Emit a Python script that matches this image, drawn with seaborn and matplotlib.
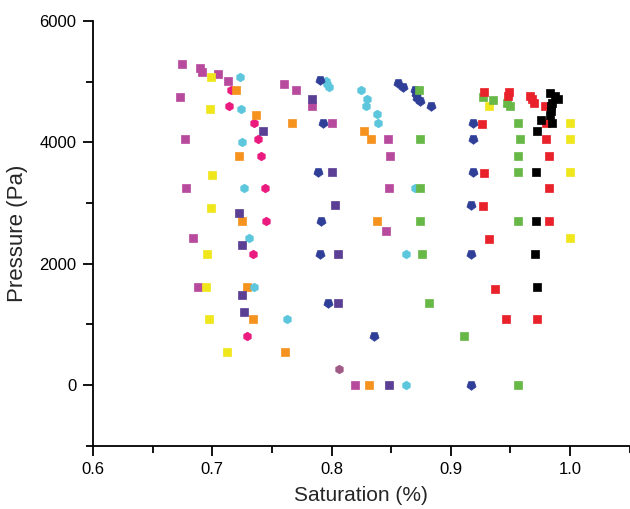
import matplotlib
matplotlib.use("Agg")
import matplotlib.pyplot as plt
import seaborn as sns
import pandas as pd
from matplotlib.ticker import MultipleLocator

sns.set_theme(style="ticks")
plt.rcParams['font.family'] = ['Liberation Sans', 'DejaVu Sans']

# ---- data ----
magenta_x = [0.675, 0.690, 0.691, 0.705, 0.713, 0.760, 0.770, 0.784, 0.800, 0.673, 0.677,
             0.678, 0.684, 0.688, 0.847, 0.849, 0.848, 0.846, 0.820]
magenta_y = [5290, 5220, 5160, 5120, 5010, 4960, 4860, 4590, 4320, 4750, 4050,
             3240, 2430, 1620, 4050, 3780, 3240, 2540, 0]

yellow_x = [0.699, 0.698, 0.700, 0.699, 0.696, 0.695, 0.697, 0.712, 0.932, 1.0, 1.0, 1.0, 1.0]
yellow_y = [5080, 4540, 3460, 2920, 2160, 1620, 1080, 540, 4590, 4320, 4050, 3510, 2430]

pink_x = [0.7155, 0.714, 0.735, 0.738, 0.741, 0.744, 0.745, 0.734, 0.729]
pink_y = [4860, 4590, 4320, 4050, 3780, 3240, 2700, 2160, 810]

orange_x = [0.720, 0.737, 0.767, 0.722, 0.725, 0.729, 0.734, 0.761, 0.827, 0.833, 0.838, 0.831]
orange_y = [4860, 4450, 4320, 3780, 2700, 1620, 1080, 540, 4190, 4050, 2700, 0]

cyan_x = [0.723, 0.724, 0.725, 0.727, 0.731, 0.735, 0.763, 0.795, 0.796, 0.798, 0.825,
          0.8295, 0.8285, 0.838, 0.839, 0.870, 0.862, 0.862]
cyan_y = [5080, 4540, 4000, 3240, 2430, 1620, 1080, 5010, 4960, 4910, 4860,
          4720, 4590, 4460, 4320, 3240, 2160, 0]

navy_x = [0.790, 0.793, 0.789, 0.791, 0.790, 0.797, 0.836, 0.856, 0.860, 0.870, 0.871,
          0.872, 0.8745, 0.883, 0.919, 0.919, 0.919, 0.917, 0.917, 0.917]
navy_y = [5020, 4320, 3510, 2700, 2160, 1350, 810, 4970, 4910, 4860, 4790,
          4730, 4680, 4590, 4320, 4050, 3510, 2970, 2160, 0]

purple_x = [0.784, 0.7425, 0.800, 0.803, 0.722, 0.725, 0.805, 0.725, 0.805, 0.727, 0.848]
purple_y = [4720, 4190, 3510, 2970, 2840, 2300, 2160, 1480, 1350, 1210, 0]

mauve_x = [0.806]
mauve_y = [270]

green_x = [0.873, 0.874, 0.874, 0.874, 0.876, 0.8815, 0.911, 0.927, 0.9355, 0.9475, 0.9495,
           0.9565, 0.958, 0.956, 0.9565, 0.9565, 0.956]
green_y = [4860, 4050, 3240, 2700, 2160, 1350, 810, 4750, 4700, 4650, 4600,
           4320, 4050, 3780, 3510, 2700, 0]

red_x = [0.926, 0.928, 0.949, 0.948, 0.966, 0.968, 0.970, 0.979, 0.9795, 0.980, 0.982,
         0.928, 0.982, 0.927, 0.982, 0.932, 0.937, 0.946, 0.972]
red_y = [4300, 4820, 4830, 4760, 4760, 4710, 4640, 4590, 4320, 4050, 3780,
         3490, 3240, 2950, 2700, 2400, 1590, 1080, 1080]

black_x = [0.983, 0.987, 0.9895, 0.9847, 0.984, 0.9838, 0.983, 0.976, 0.985, 0.972,
           0.9715, 0.9715, 0.9705, 0.972]
black_y = [4810, 4770, 4720, 4650, 4590, 4510, 4450, 4370, 4320, 4190,
           3510, 2700, 2160, 1620]

x_ticks = [0.6, 0.7, 0.8, 0.9, 1.0]
x_tick_labels = ["0.6", "0.7", "0.8", "0.9", "1.0"]
y_ticks = [0, 2000, 4000, 6000]
y_tick_labels = ["0", "2000", "4000", "6000"]

series = [
    ("magenta", magenta_x, magenta_y, "#b84a9e", "s", 32),
    ("yellow", yellow_x, yellow_y, "#f0e61c", "s", 32),
    ("pink", pink_x, pink_y, "#ea1a7f", "h", 38),
    ("orange", orange_x, orange_y, "#f6921e", "s", 32),
    ("cyan", cyan_x, cyan_y, "#5cc6dc", "h", 38),
    ("navy", navy_x, navy_y, "#2f3f98", (5, 0, 180), 48),
    ("purple", purple_x, purple_y, "#5b3f95", "s", 32),
    ("mauve", mauve_x, mauve_y, "#a05a86", "h", 38),
    ("green", green_x, green_y, "#68b848", "s", 32),
    ("red", red_x, red_y, "#e8212b", "s", 32),
    ("black", black_x, black_y, "#000000", "s", 32),
]

fig = plt.figure(figsize=(6.3, 5.09), dpi=100)
ax = fig.add_axes([0.1476, 0.1244, 0.852, 0.8346])

for name, xs, ys, col, mk, sz in series:
    df = pd.DataFrame({"Saturation": xs, "Pressure": ys})
    sns.scatterplot(data=df, x="Saturation", y="Pressure", ax=ax, color=col,
                    marker=mk, s=sz, edgecolor=col, linewidth=0.5, zorder=3)

ax.set_xlim(0.6, 1.05)
ax.set_ylim(-1000, 6000)
ax.set_xticks(x_ticks)
ax.set_xticklabels(x_tick_labels)
ax.set_yticks(y_ticks)
ax.set_yticklabels(y_tick_labels)
ax.xaxis.set_minor_locator(MultipleLocator(0.05))
ax.yaxis.set_minor_locator(MultipleLocator(1000))

ax.set_xlabel("Saturation (%)", fontsize=15, labelpad=6)
ax.set_ylabel("Pressure (Pa)", fontsize=16, labelpad=8)

for side in ["top", "right"]:
    ax.spines[side].set_visible(False)
for side in ["left", "bottom"]:
    ax.spines[side].set_linewidth(1.3)
    ax.spines[side].set_color("black")

ax.tick_params(which="major", direction="out", length=7, width=1.3, labelsize=12,
               colors="black", pad=5)
ax.tick_params(which="minor", direction="out", length=5, width=1.3, colors="black")
ax.grid(False)

fig.savefig("out.png", dpi=100)
